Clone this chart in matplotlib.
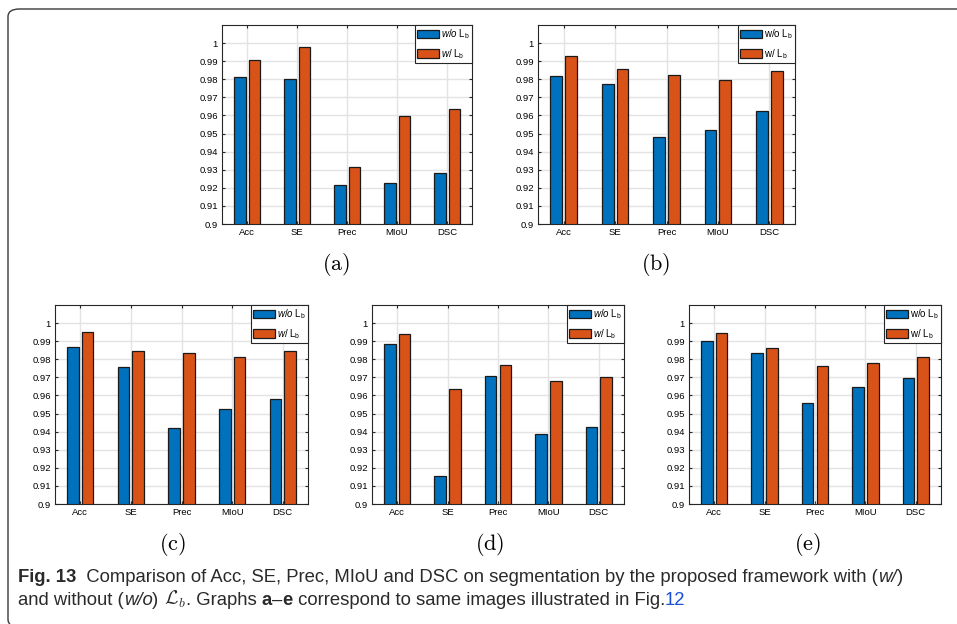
import numpy as np
import matplotlib
matplotlib.use('Agg')
import matplotlib.pyplot as plt
from matplotlib.patches import FancyBboxPatch

W, H = 957, 624

# metric names on the x axis
METRICS = ['Acc', 'SE', 'Prec', 'MIoU', 'DSC']

# without boundary loss (w/o L_b), one list per graph a-e
WO_A = [0.9815, 0.9802, 0.9217, 0.9226, 0.9283]
WO_B = [0.9820, 0.9772, 0.9480, 0.9522, 0.9624]
WO_C = [0.9869, 0.9756, 0.9420, 0.9524, 0.9583]
WO_D = [0.9883, 0.9154, 0.9709, 0.9389, 0.9424]
WO_E = [0.9902, 0.9835, 0.9557, 0.9644, 0.9694]

# with boundary loss (w/ L_b)
W_A = [0.9909, 0.9981, 0.9313, 0.9596, 0.9635]
W_B = [0.9926, 0.9856, 0.9826, 0.9794, 0.9843]
W_C = [0.9952, 0.9848, 0.9833, 0.9811, 0.9843]
W_D = [0.9941, 0.9637, 0.9770, 0.9678, 0.9704]
W_E = [0.9943, 0.9865, 0.9761, 0.9781, 0.9813]

PANEL_LABELS = ['(a)', '(b)', '(c)', '(d)', '(e)']
YTICKS = [0.9, 0.91, 0.92, 0.93, 0.94, 0.95, 0.96, 0.97, 0.98, 0.99, 1]
YTICKLABELS = ['0.9', '0.91', '0.92', '0.93', '0.94', '0.95', '0.96', '0.97', '0.98', '0.99', '1']

BLUE = '#0072BD'
ORANGE = '#D95319'

plt.rcParams['font.family'] = ['Liberation Sans', 'DejaVu Sans']
plt.rcParams['mathtext.fontset'] = 'custom'
plt.rcParams['mathtext.rm'] = 'Liberation Sans'
plt.rcParams['mathtext.it'] = 'Liberation Sans:italic'

fig = plt.figure(figsize=(W / 100, H / 100), dpi=100)

# outer rounded frame (runs off the right and bottom edge like the page crop)
frame = FancyBboxPatch((8 / W, 1 - 627 / H), 1.02 - 8 / W, (627 - 9) / H,
                       boxstyle='round,pad=0,rounding_size=0.012',
                       transform=fig.transFigure, fill=False,
                       edgecolor='#3a3a3a', linewidth=1.0, clip_on=False)
fig.patches.append(frame)

# axes boxes in pixels: left, top, right, bottom
boxes = [(222, 25, 472, 224), (538, 25, 795, 224),
         (55, 305, 308, 504), (372, 305, 624, 504), (689, 305, 941, 504)]
label_pos = [(336, 264), (656, 264), (172, 544), (490, 544), (807, 544)]
italic = [True, False, True, True, False]

wo_all = [WO_A, WO_B, WO_C, WO_D, WO_E]
w_all = [W_A, W_B, W_C, W_D, W_E]

x = np.arange(1, len(METRICS) + 1)
bw = 0.23
off = 0.145

for i, (l, t, r, b) in enumerate(boxes):
    ax = fig.add_axes([l / W, 1 - b / H, (r - l) / W, (b - t) / H])
    ax.set_axisbelow(True)
    ax.grid(True, color='#e3e3e3', linewidth=1.0)
    if italic[i]:
        lab_wo = r'$\mathit{w/o}$ L$_\mathrm{b}$'
        lab_w = r'$\mathit{w/}$ L$_\mathrm{b}$'
    else:
        lab_wo = r'w/o L$_\mathrm{b}$'
        lab_w = r'w/ L$_\mathrm{b}$'
    ax.bar(x - off, wo_all[i], bw, color=BLUE, edgecolor='#1a1a1a', linewidth=0.9, label=lab_wo)
    ax.bar(x + off, w_all[i], bw, color=ORANGE, edgecolor='#1a1a1a', linewidth=0.9, label=lab_w)
    ax.set_xlim(0.5, 5.5)
    ax.set_ylim(0.9, 1.01)
    ax.set_yticks(YTICKS)
    ax.set_yticklabels(YTICKLABELS)
    ax.set_xticks(x)
    ax.set_xticklabels(METRICS)
    ax.tick_params(direction='in', length=2.5, width=0.8, labelsize=6.8, pad=3,
                   top=True, right=True, color='#262626')
    for s in ax.spines.values():
        s.set_color('#262626')
        s.set_linewidth(0.8)
    leg = ax.legend(loc='upper right', fontsize=7, borderaxespad=0, fancybox=False,
                    framealpha=1, edgecolor='#262626', handlelength=2.2, handleheight=1.0,
                    handletextpad=0.2, labelspacing=0.6, borderpad=0.25)
    leg.get_frame().set_linewidth(0.8)
    px, py = label_pos[i]
    fig.text(px / W, 1 - py / H, r'$\mathrm{' + PANEL_LABELS[i] + '}$', ha='center', va='center',
             fontsize=16, math_fontfamily='cm')

# caption written as sequential runs of differently styled text
renderer = fig.canvas.get_renderer()


def runs(x0, y0, parts):
    xp = x0
    for txt, kw in parts:
        style = dict(fontsize=13.3, family=['Liberation Sans'], color='#2a2a2a')
        style.update(kw)
        t = fig.text(xp / W, 1 - y0 / H, txt, va='baseline', ha='left', **style)
        bb = t.get_window_extent(renderer)
        xp = bb.x1


runs(18, 582, [('Fig. 13', dict(fontweight='bold')),
               ('  Comparison of Acc, SE, Prec, MIoU and DSC on segmentation by the proposed framework with (', {}),
               ('w/', dict(fontstyle='italic')),
               (')', {})])
runs(18, 605, [('and without (', {}),
               ('w/o', dict(fontstyle='italic')),
               (') ', {}),
               (r'$\mathcal{L}_b$', dict(math_fontfamily='cm', fontsize=14)),
               ('. Graphs ', {}),
               ('a', dict(fontweight='bold')),
               ('\u2013', {}),
               ('e', dict(fontweight='bold')),
               (' correspond to same images illustrated in Fig.', {}),
               ('12', dict(color='#1a4fd6'))])

fig.savefig('out.png', dpi=100)
